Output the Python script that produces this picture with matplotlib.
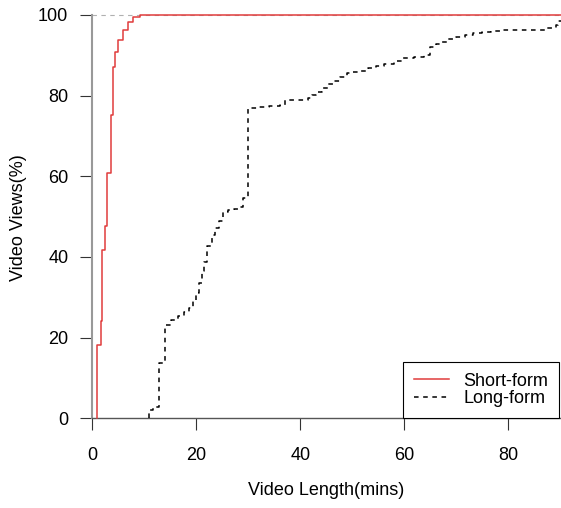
import numpy as np
import matplotlib
matplotlib.use("Agg")
import matplotlib.pyplot as plt

plt.rcParams['font.family'] = ['Liberation Sans', 'DejaVu Sans']

# ECDF de duracion de videos (minutos, % acumulado)
short_len = [0.84, 1.61, 1.93, 2.44, 2.89, 3.53, 3.92, 4.43, 5.01, 5.84, 6.93, 7.89, 9.17]
short_pct = [18.2, 24.0, 41.6, 47.7, 60.9, 75.2, 87.2, 90.9, 93.8, 96.3, 98.3, 99.6, 100.0]

long_len = [10.9, 11.7, 12.9, 14.0, 15.2, 16.4, 17.6, 18.6, 19.4, 20.0, 20.5, 21.0,
            21.5, 22.0, 23.0, 23.6, 24.3, 25.1, 26.0, 27.2, 28.3, 28.9, 30.0, 32.0,
            34.0, 36.1, 37.1, 39.0, 41.5, 42.3, 43.1, 44.2, 45.3, 46.4, 47.6, 48.9,
            50.2, 51.5, 53.0, 54.5, 56.0, 58.0, 59.8, 61.8, 63.7, 64.9, 66.0, 67.1,
            68.2, 70.0, 71.7, 73.3, 75.0, 76.7, 78.4, 87.1, 89.1, 89.6]
long_pct = [2.1, 2.9, 13.6, 23.1, 24.3, 25.3, 26.3, 27.4, 29.3, 31.0, 33.5, 36.4,
            38.8, 42.6, 45.4, 47.2, 49.0, 51.2, 51.7, 52.0, 52.3, 54.5, 76.9, 77.2,
            77.4, 77.7, 78.8, 79.0, 79.3, 80.2, 81.0, 81.9, 82.8, 83.6, 84.6, 85.5,
            85.9, 86.2, 86.8, 87.3, 87.8, 88.6, 89.3, 89.7, 90.1, 92.1, 92.8, 93.4,
            94.0, 94.6, 95.1, 95.5, 95.8, 96.1, 96.3, 96.7, 97.5, 98.5]

x_ticks = [0, 20, 40, 60, 80]
y_ticks = [0, 20, 40, 60, 80, 100]
x_max = 90.1

fig = plt.figure(figsize=(5.61, 5.08), dpi=100)
ax = fig.add_axes([0.1553, 0.1687, 0.8444, 0.8296])
ax.set_xlim(-1, x_max)
ax.set_ylim(-1, 103.5)

# linea de referencia en 100%
ax.hlines(100, 0, x_max, colors='#b0b0b0', linestyles=(0, (4, 4)), linewidth=0.8, zorder=1)


def ecdf_step(xs, ys, **kw):
    xs = np.r_[xs[0], xs, x_max]
    ys = np.r_[0, ys, ys[-1]]
    return ax.step(xs, ys, where='post', **kw)


ecdf_step(short_len, short_pct, color='#e03c3c', linewidth=1.1, label='Short-form', zorder=3)
ecdf_step(long_len, long_pct, color='black', linewidth=1.1, linestyle=(0, (3, 3)),
          label='Long-form', zorder=3)

for s in ['top', 'right']:
    ax.spines[s].set_visible(False)
ax.spines['left'].set_position(('data', 0))
ax.spines['left'].set_bounds(0, 100)
ax.spines['left'].set_color('#999999')
ax.spines['left'].set_linewidth(1.5)
ax.spines['bottom'].set_position(('data', 0))
ax.spines['bottom'].set_bounds(0, x_max)
ax.spines['bottom'].set_color('#555555')
ax.spines['bottom'].set_linewidth(1.0)

ax.set_xticks(x_ticks)
ax.set_yticks(y_ticks)
ax.tick_params(axis='x', length=8.4, width=0.8, color='#333333', pad=12.5, labelsize=13)
ax.tick_params(axis='y', length=8.4, width=0.8, color='#333333', pad=8.9, labelsize=13)

fig.text(0.5808, 0.018, 'Video Length(mins)', ha='center', va='bottom', fontsize=13)
fig.text(0.0326, 1 - 217.5 / 508, 'Video Views(%)', ha='center', va='center',
         rotation=90, fontsize=13)

leg = ax.legend(loc='lower right', bbox_to_anchor=(89.8, 0), bbox_transform=ax.transData,
                borderaxespad=0, fontsize=13, fancybox=False, framealpha=1,
                edgecolor='black', handlelength=1.94, handletextpad=0.83,
                borderpad=0.6, labelspacing=0.05)
leg.get_frame().set_linewidth(0.8)

fig.savefig('out.png', dpi=100)
